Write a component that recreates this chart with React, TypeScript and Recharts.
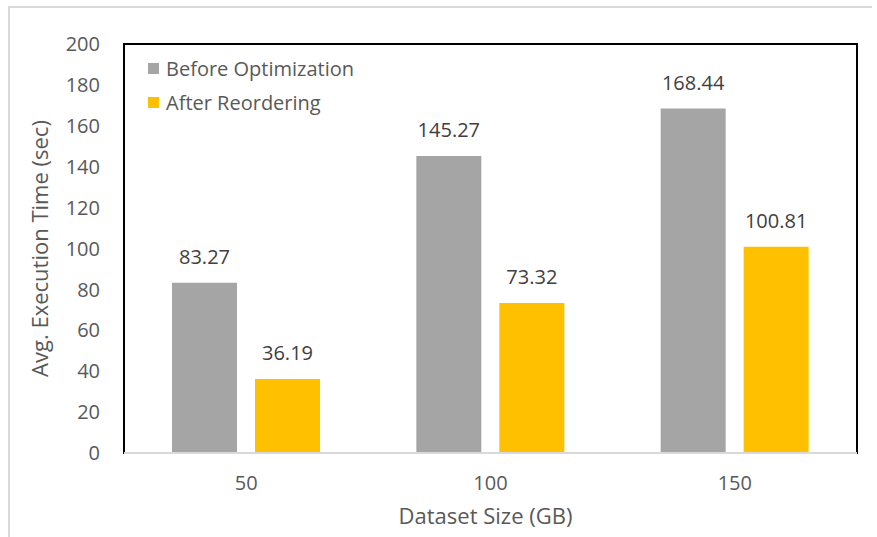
import React from 'react';
import {
  Bar,
  BarChart,
  LabelList,
  Legend,
  ReferenceArea,
  ReferenceLine,
  XAxis,
  YAxis,
} from 'recharts';

const SIZES = ['50', '100', '150'];
const BEFORE = [83.27, 145.27, 168.44];
const AFTER = [36.19, 73.32, 100.81];
const SERIES_NAMES = ['Before Optimization', 'After Reordering'];
const Y_TICKS = [0, 20, 40, 60, 80, 100, 120, 140, 160, 180, 200];

const DATA = SIZES.map((size, i) => ({
  size,
  before: BEFORE[i],
  after: AFTER[i],
}));

const FONT = '"Open Sans", sans-serif';
const AXIS_TEXT = '#595959';
const BASELINE = '#d9d9d9';

function LegendBox({ payload }: any) {
  const items = [...(payload || [])].sort(
    (a: any, b: any) =>
      SERIES_NAMES.indexOf(a.value) - SERIES_NAMES.indexOf(b.value),
  );
  return (
    <div style={{ fontFamily: FONT, fontSize: 20, color: AXIS_TEXT }}>
      {items.map((p: any) => (
        <div
          key={p.value}
          style={{ display: 'flex', alignItems: 'center', height: 34 }}
        >
          <span
            style={{
              width: 11,
              height: 11,
              background: p.color,
              marginRight: 7,
              display: 'inline-block',
            }}
          />
          <span>{p.value}</span>
        </div>
      ))}
    </div>
  );
}

function YTitle({ viewBox }: any) {
  const cx = viewBox.x + 39;
  const cy = viewBox.y + viewBox.height / 2;
  return (
    <text
      x={cx}
      y={cy}
      transform={`rotate(-90, ${cx}, ${cy})`}
      textAnchor="middle"
      dominantBaseline="central"
      fontFamily={FONT}
      fontSize={22}
      fill={AXIS_TEXT}
    >
      Avg. Execution Time (sec)
    </text>
  );
}

function XTitle({ viewBox }: any) {
  return (
    <text
      x={viewBox.x + viewBox.width / 2 - 5}
      y={viewBox.y + 62}
      textAnchor="middle"
      dominantBaseline="central"
      fontFamily={FONT}
      fontSize={22}
      fill={AXIS_TEXT}
    >
      Dataset Size (GB)
    </text>
  );
}

export default function App() {
  return (
    <div
      style={{
        position: 'absolute',
        left: 0,
        top: 0,
        width: 877,
        height: 537,
        background: '#fff',
        overflow: 'hidden',
      }}
    >
      {/* light frame around the figure */}
      <div
        style={{
          position: 'absolute',
          left: 8,
          top: 6,
          width: 862,
          height: 600,
          borderLeft: '2px solid #d9d9d9',
          borderTop: '2px solid #d9d9d9',
        }}
      />
      <div style={{ position: 'absolute', left: 0, top: 0 }}>
        <BarChart
          width={877}
          height={537}
          data={DATA}
          margin={{ top: 44, right: 20, bottom: 24, left: 0 }}
          barGap={18}
          barSize={65}
        >
          {/* black plot frame, bottom edge covered by the grey baseline */}
          <ReferenceArea
            y1={0}
            y2={200}
            fill="none"
            stroke="#000"
            strokeWidth={2}
          />
          <XAxis
            dataKey="size"
            height={60}
            tickSize={0}
            tickMargin={23}
            axisLine={{ stroke: BASELINE, strokeWidth: 2 }}
            tick={{ fill: AXIS_TEXT, fontSize: 20, fontFamily: FONT }}
            label={<XTitle />}
          />
          <YAxis
            width={124}
            domain={[0, 200]}
            ticks={Y_TICKS}
            interval={0}
            tickSize={0}
            tickMargin={24}
            axisLine={false}
            tick={{ fill: AXIS_TEXT, fontSize: 20, fontFamily: FONT }}
            label={<YTitle />}
          />
          <ReferenceLine y={0} stroke={BASELINE} strokeWidth={2} />
          <Legend
            layout="horizontal"
            verticalAlign="middle"
            align="center"
            content={<LegendBox />}
            wrapperStyle={{ top: 51, left: 148, width: 'auto' }}
          />
          <Bar
            dataKey="before"
            name={SERIES_NAMES[0]}
            fill="#A5A5A5"
            isAnimationActive={false}
          >
            <LabelList
              dataKey="before"
              position="top"
              offset={19}
              fill="#404040"
              fontSize={20}
              fontFamily={FONT}
            />
          </Bar>
          <Bar
            dataKey="after"
            name={SERIES_NAMES[1]}
            fill="#FFC000"
            isAnimationActive={false}
          >
            <LabelList
              dataKey="after"
              position="top"
              offset={19}
              fill="#404040"
              fontSize={20}
              fontFamily={FONT}
            />
          </Bar>
        </BarChart>
      </div>
    </div>
  );
}
